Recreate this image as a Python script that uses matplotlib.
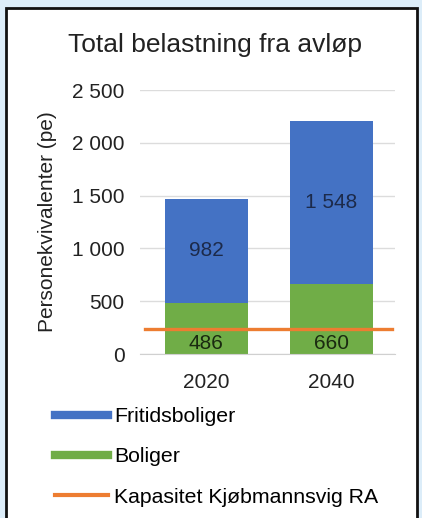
import matplotlib.pyplot as plt
from matplotlib.patches import Rectangle
from matplotlib.lines import Line2D

plt.rcParams['font.family'] = ['Liberation Sans', 'DejaVu Sans']

years = ['2020', '2040']
boliger = [486, 660]
fritidsboliger = [982, 1548]
kapasitet = 240
yticks = [0, 500, 1000, 1500, 2000, 2500]
ytick_labels = ['0', '500', '1 000', '1 500', '2 000', '2 500']

blue = '#4472C4'
green = '#70AD47'
orange = '#ED7D31'

fig = plt.figure(figsize=(4.22, 5.18), dpi=100)
fig.patch.set_facecolor('#dcedf9')
fig.patches.append(Rectangle((6 / 422, -0.05), 411 / 422, 1.05 - 8 / 518,
                             transform=fig.transFigure, facecolor='white',
                             edgecolor='#111111', linewidth=2, zorder=-5))

ax = fig.add_axes([140 / 422, 164 / 518, 255 / 422, 264 / 518])
ax.set_facecolor('none')
x = list(range(len(years)))
ax.bar(x, boliger, width=0.66, color=green, zorder=2)
ax.bar(x, fritidsboliger, width=0.66, bottom=boliger, color=blue, zorder=2)
ax.axhline(kapasitet, xmin=0.02, xmax=0.99, color=orange, lw=2.4, zorder=3)

for i in x:
    ax.text(i, 95, f'{boliger[i]}', ha='center', va='center',
            fontsize=15, color='#1a2a10', zorder=4)
    v = fritidsboliger[i]
    lab = f'{v:,}'.replace(',', ' ')
    ax.text(i, boliger[i] + v / 2, lab, ha='center', va='center',
            fontsize=15, color='#1c2a4a', zorder=4)

ax.set_xlim(-0.53, 1.51)
ax.set_ylim(0, 2500)
ax.set_yticks(yticks)
ax.set_yticklabels(ytick_labels)
ax.set_xticks(x)
ax.set_xticklabels(years)
ax.tick_params(axis='both', length=0, labelsize=15, colors='#222222')
ax.tick_params(axis='y', pad=11)
ax.tick_params(axis='x', pad=14)
ax.grid(axis='y', color='#dcdcdc', lw=1, zorder=0)
for s in ['top', 'right', 'left']:
    ax.spines[s].set_visible(False)
ax.spines['bottom'].set_color('#d0d0d0')
ax.set_ylabel('Personekvivalenter (pe)', fontsize=15, color='#222222', labelpad=11)

fig.text(215 / 422, 1 - 45 / 518, 'Total belastning fra avløp', ha='center',
         va='center', fontsize=19, color='#222222')

handles = [Line2D([], [], color=blue, lw=6),
           Line2D([], [], color=green, lw=6),
           Line2D([], [], color=orange, lw=3)]
labels = ['Fritidsboliger', 'Boliger', 'Kapasitet Kjøbmannsvig RA']
fig.legend(handles, labels, loc='center left', bbox_to_anchor=(55 / 422, 1 - 457 / 518),
           frameon=False, fontsize=15.3, handlelength=2.5, handletextpad=0.3,
           labelspacing=1.0, borderpad=0, borderaxespad=0)

fig.savefig('out.png', dpi=100, facecolor=fig.get_facecolor())
